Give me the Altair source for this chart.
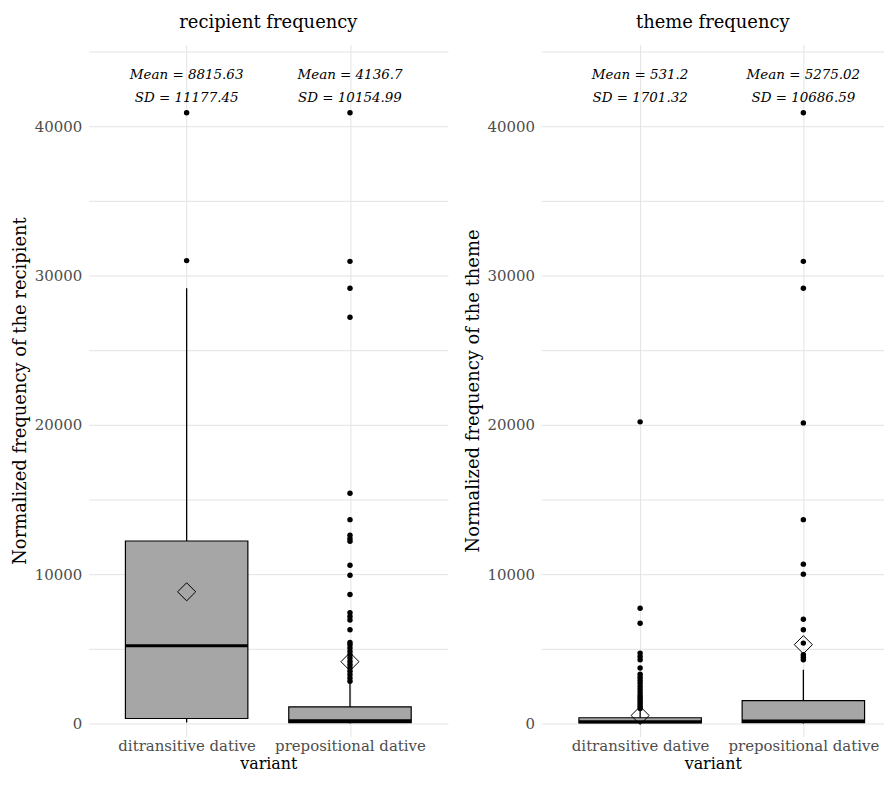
import altair as alt
import pandas as pd

categories = ["ditransitive dative", "prepositional dative"]
panel_titles = ["recipient frequency", "theme frequency"]
y_titles = ["Normalized frequency of the recipient", "Normalized frequency of the theme"]

# recipient frequency panel
rec_q1 = [330, 50]
rec_median = [5200, 180]
rec_q3 = [12220, 1110]
rec_lower = [60, 0]
rec_upper = [29150, 2700]
rec_mean = [8815.63, 4136.7]
rec_sd = [11177.45, 10154.99]
rec_out_ditr = [40900, 31000]
rec_out_prep = [40900, 30950, 29150, 27200, 15420, 13650, 12600, 12380, 12200,
                10600, 9930, 8640, 7420, 7160, 6930, 6270, 5420, 5270, 5050,
                4820, 4600, 4380, 4150, 3930, 3710, 3490, 3270, 3050, 2830]

# theme frequency panel
thm_q1 = [40, 50]
thm_median = [110, 170]
thm_q3 = [380, 1530]
thm_lower = [0, 0]
thm_upper = [900, 3600]
thm_mean = [531.2, 5275.02]
thm_sd = [1701.32, 10686.59]
thm_out_ditr = [20200, 7710, 6710, 4710, 4490, 4270, 3710, 3300, 3100, 2900,
                2700, 2500, 2300, 2100, 1900, 1750, 1600, 1450, 1300, 1150, 1000]
thm_out_prep = [40900, 30950, 29150, 20130, 13650, 10670, 10000, 6980, 6270,
                5380, 4600, 4430, 4270]

MEAN_LABEL_Y = 43400
SD_LABEL_Y = 41870
Y_DOMAIN = [-870, 45470]
FONT = "DejaVu Serif"


def panel(q1, med, q3, lo, hi, mean, sd, out_d, out_p, title, ytitle,
          width, padding, align):
    summary = pd.DataFrame({
        "variant": categories, "q1": q1, "median": med, "q3": q3,
        "lower": lo, "upper": hi, "mean": mean,
        "mean_label": [f"Mean = {m}" for m in mean],
        "sd_label": [f"SD = {s}" for s in sd],
        "mean_y": [MEAN_LABEL_Y] * 2, "sd_y": [SD_LABEL_Y] * 2,
    })
    outliers = pd.DataFrame({
        "variant": [categories[0]] * len(out_d) + [categories[1]] * len(out_p),
        "value": out_d + out_p,
    })

    xenc = alt.X("variant:N", sort=categories,
                 scale=alt.Scale(type="point", domain=categories,
                                 padding=padding, align=align),
                 axis=alt.Axis(title="variant", labelAngle=0),
                 )

    def yenc(field):
        return alt.Y(f"{field}:Q",
                     scale=alt.Scale(domain=Y_DOMAIN, nice=False, zero=False),
                     axis=alt.Axis(values=list(range(0, 45001, 5000)),
                                   format="d",
                                   labelExpr="datum.value % 10000 === 0 ? datum.label : ''",
                                   title=ytitle))

    whisk = alt.Chart(summary).mark_rule(color="black", strokeWidth=1.3,
                                         opacity=1).encode(
        x=xenc, y=yenc("lower"), y2="upper:Q")
    box = alt.Chart(summary).mark_bar(size=123, fill="#A6A6A6", stroke="black",
                                      strokeWidth=1.2, opacity=1).encode(
        x=xenc, y=yenc("q1"), y2="q3:Q")
    median = alt.Chart(summary).mark_tick(orient="horizontal", size=123,
                                          thickness=3, color="black",
                                          opacity=1).encode(
        x=xenc, y=yenc("median"))
    pts = alt.Chart(outliers).mark_circle(size=30, color="black", opacity=1).encode(
        x=xenc, y=yenc("value"))
    mean_pt = alt.Chart(summary).mark_point(shape="diamond", size=330, filled=False,
                                            stroke="black", strokeWidth=1,
                                            opacity=1).encode(
        x=xenc, y=yenc("mean"))
    t1 = alt.Chart(summary).mark_text(font=FONT, fontStyle="italic", fontSize=13.5,
                                      color="black", baseline="middle").encode(
        x=xenc, y=yenc("mean_y"), text="mean_label:N")
    t2 = alt.Chart(summary).mark_text(font=FONT, fontStyle="italic", fontSize=13.5,
                                      color="black", baseline="middle").encode(
        x=xenc, y=yenc("sd_y"), text="sd_label:N")

    return alt.layer(whisk, box, median, pts, mean_pt, t1, t2).properties(
        width=width, height=695,
        title=alt.Title(title, font=FONT, fontSize=18, fontWeight="normal",
                        anchor="middle", color="black", offset=13))


left = panel(rec_q1, rec_median, rec_q3, rec_lower, rec_upper, rec_mean, rec_sd,
             rec_out_ditr, rec_out_prep, panel_titles[0], y_titles[0],
             361, 0.6, 0.5)
right = panel(thm_q1, thm_median, thm_q3, thm_lower, thm_upper, thm_mean, thm_sd,
              thm_out_ditr, thm_out_prep, panel_titles[1], y_titles[1],
              344, 0.549, 0.55)

chart = alt.hconcat(left, right, spacing=16).properties(
    padding={"left": 3, "top": 4, "right": 0, "bottom": 0}
).configure_view(stroke=None).configure_axis(
    grid=True, gridColor="#E3E3E3", gridWidth=1, domain=False, ticks=False,
    labelFont=FONT, labelFontSize=15, labelColor="#4D4D4D",
    titleFont=FONT, titleFontSize=16, titleFontWeight="normal", titleColor="black",
).configure_axisY(
    labelPadding=7, titlePadding=5, titleFontSize=18
).configure_axisX(
    labelPadding=2, titlePadding=2
)

chart.save("out.html", embed_options={"renderer": "svg", "actions": False})
